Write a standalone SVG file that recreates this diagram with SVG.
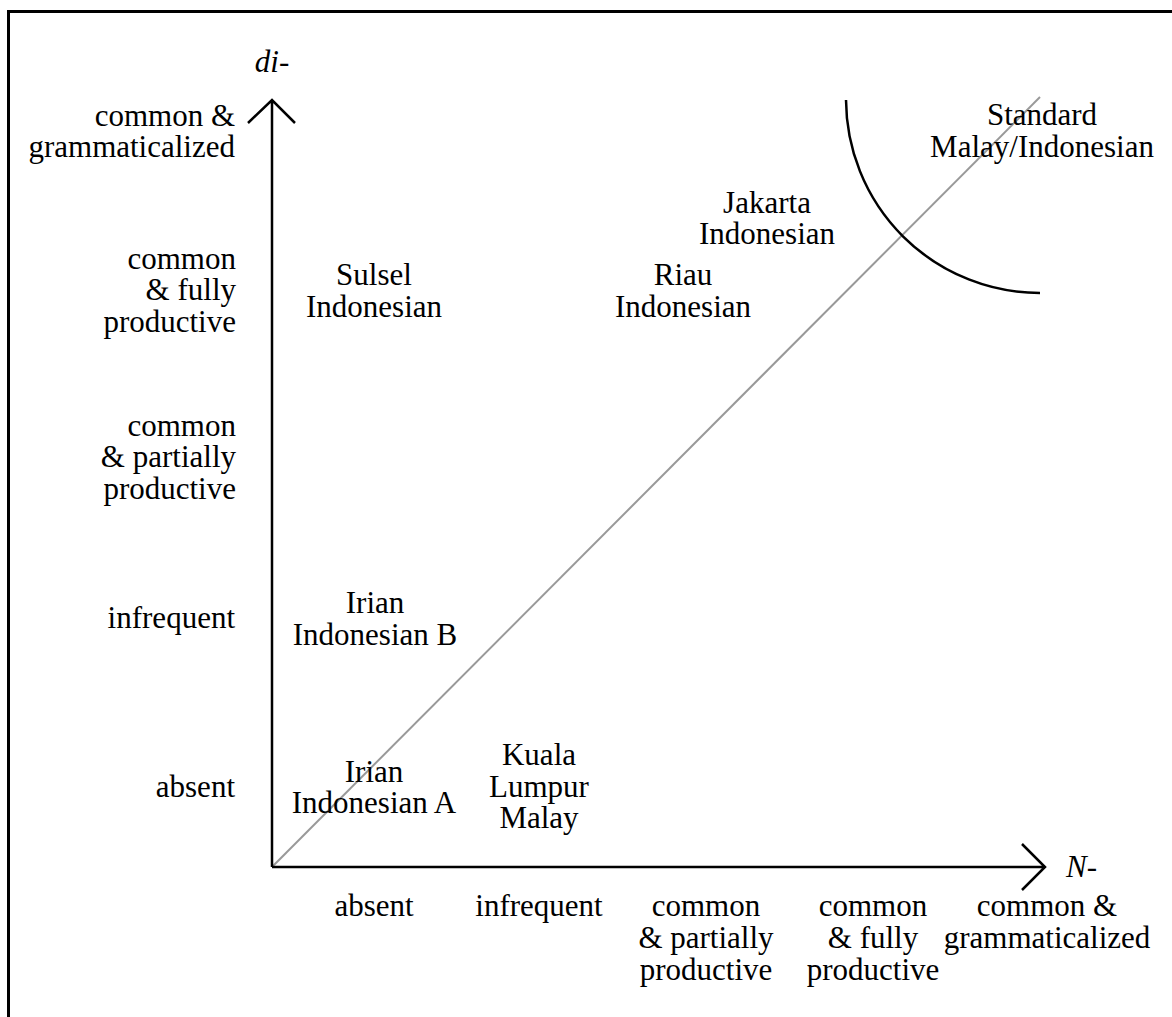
<svg xmlns="http://www.w3.org/2000/svg" width="1172" height="1017" viewBox="0 0 1172 1017">
<style>
text{font-family:"Liberation Serif","Times New Roman",serif;font-size:31px;fill:#000}
.r{text-anchor:end}
.m{text-anchor:middle}
.i{font-style:italic}
.ax{fill:none;stroke:#000;stroke-width:2.5}
</style>
<rect width="1172" height="1017" fill="#fff"/>
<path d="M8.5,1017 V11.5 H1172" fill="none" stroke="#000" stroke-width="3"/>
<g id="connectors">
<line x1="272" y1="867" x2="1040" y2="97" stroke="#999" stroke-width="2"/>
<path class="ax" d="M272,867 V100 M248,123 L272,100 L295,123"/>
<path class="ax" d="M272,867 H1045 M1022,844 L1045,867 L1022,890"/>
<path class="ax" d="M846,100 A194,194 0 0,0 1040,293"/>
</g>
<g id="axis-titles">
<text class="m i" x="272" y="72">di-</text>
<text class="i" x="1066" y="877">N-</text>
</g>
<g id="y-labels">
<text class="r" x="235" y="126">common &amp;<tspan x="235" dy="30.5">grammaticalized</tspan></text>
<text class="r" x="236" y="269">common<tspan x="236" dy="31.3">&amp; fully</tspan><tspan x="236" dy="31.3">productive</tspan></text>
<text class="r" x="236" y="436">common<tspan x="236" dy="31.3">&amp; partially</tspan><tspan x="236" dy="31.3">productive</tspan></text>
<text class="r" x="235" y="628">infrequent</text>
<text class="r" x="235" y="797">absent</text>
</g>
<g id="x-labels">
<text class="m" x="374" y="916">absent</text>
<text class="m" x="539" y="916">infrequent</text>
<text class="m" x="706" y="916">common<tspan x="706" dy="32">&amp; partially</tspan><tspan x="706" dy="32">productive</tspan></text>
<text class="m" x="873" y="916">common<tspan x="873" dy="32">&amp; fully</tspan><tspan x="873" dy="32">productive</tspan></text>
<text class="m" x="1047" y="916">common &amp;<tspan x="1047" dy="32">grammaticalized</tspan></text>
</g>
<g id="node-standard"><text class="m" x="1042" y="125">Standard<tspan x="1042" dy="31.5">Malay/Indonesian</tspan></text></g>
<g id="node-jakarta"><text class="m" x="767" y="213">Jakarta<tspan x="767" dy="31.3">Indonesian</tspan></text></g>
<g id="node-riau"><text class="m" x="683" y="285">Riau<tspan x="683" dy="31.7">Indonesian</tspan></text></g>
<g id="node-sulsel"><text class="m" x="374" y="285">Sulsel<tspan x="374" dy="31.7">Indonesian</tspan></text></g>
<g id="node-irian-b"><text class="m" x="375" y="613">Irian<tspan x="375" dy="31.7">Indonesian B</tspan></text></g>
<g id="node-irian-a"><text class="m" x="374" y="782">Irian<tspan x="374" dy="31">Indonesian A</tspan></text></g>
<g id="node-kuala"><text class="m" x="539" y="765">Kuala<tspan x="539" dy="31.7">Lumpur</tspan><tspan x="539" dy="31.7">Malay</tspan></text></g>
</svg>
